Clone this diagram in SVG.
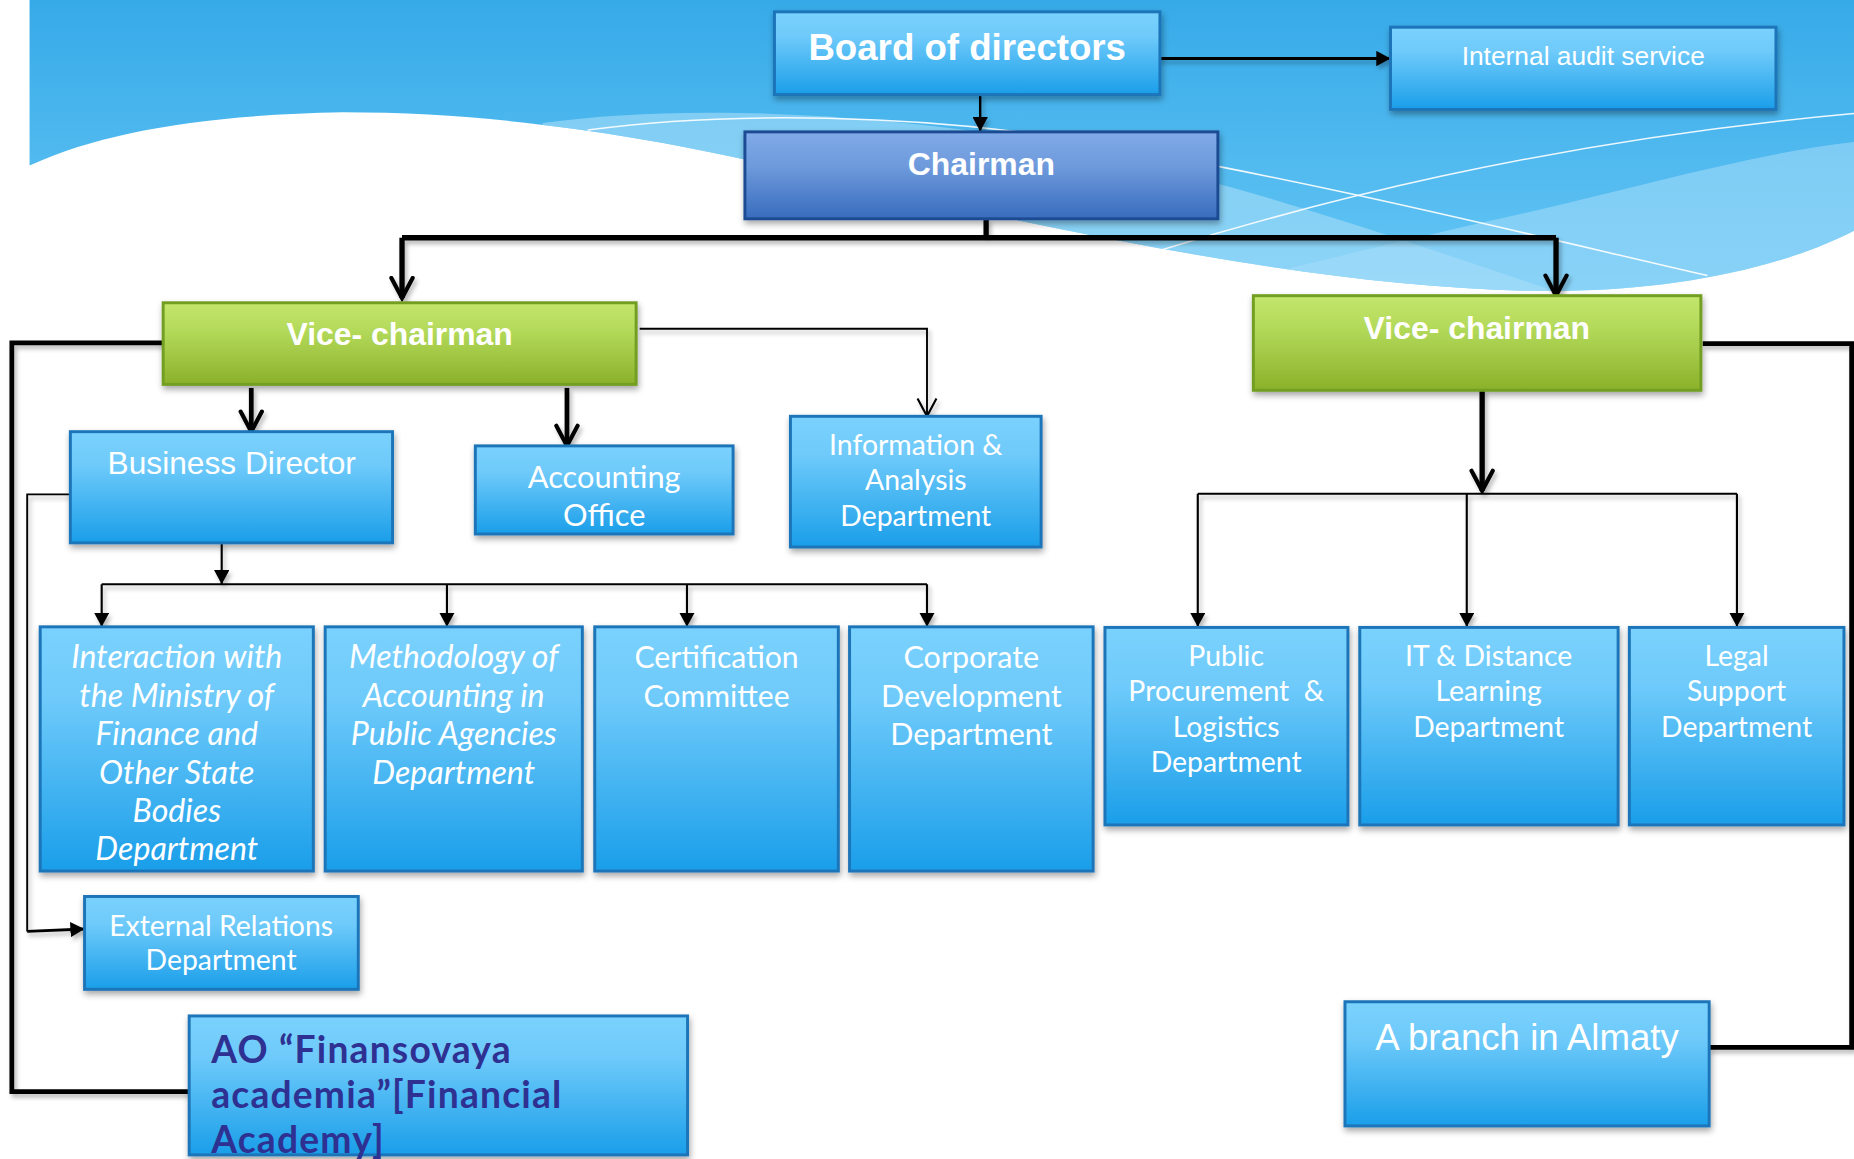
<svg xmlns="http://www.w3.org/2000/svg" width="1854" height="1159" viewBox="0 0 1854 1159">
<defs>
<linearGradient id="gBg" x1="0" y1="0" x2="0" y2="1"><stop offset="0" stop-color="#36AAE8"/><stop offset="1" stop-color="#66C6F5"/></linearGradient>
<linearGradient id="gBlue" x1="0" y1="0" x2="0" y2="1"><stop offset="0" stop-color="#7AD1FD"/><stop offset="0.3" stop-color="#6ECAFA"/><stop offset="1" stop-color="#1A9EE9"/></linearGradient>
<linearGradient id="gChair" x1="0" y1="0" x2="0" y2="1"><stop offset="0" stop-color="#80AAE8"/><stop offset="0.4" stop-color="#6E9ADC"/><stop offset="1" stop-color="#386CBD"/></linearGradient>
<linearGradient id="gGreen" x1="0" y1="0" x2="0" y2="1"><stop offset="0" stop-color="#C3E66B"/><stop offset="0.35" stop-color="#B3D95A"/><stop offset="1" stop-color="#8BB12A"/></linearGradient>
<clipPath id="bgClip"><path d="M25,0 H1568 V195 C1510,225 1420,246 1314,246 C1100,246 830,180 631,135 C540,115 420,95 290,95 C180,97 90,110 25,140 Z"/></clipPath>
<filter id="sh" x="-5%" y="-5%" width="115%" height="130%"><feDropShadow dx="1" dy="3" stdDeviation="2.5" flood-color="#000" flood-opacity="0.35"/></filter>
<filter id="lsh" filterUnits="userSpaceOnUse" x="0" y="0" width="1600" height="1000"><feDropShadow dx="2" dy="3" stdDeviation="2" flood-color="#000" flood-opacity="0.28"/></filter>
<marker id="aF" viewBox="0 0 12 13" refX="12" refY="6.5" markerWidth="12" markerHeight="13" markerUnits="userSpaceOnUse" orient="auto"><path d="M0,0 L12,6.5 L0,13 z" fill="#000"/></marker>
<marker id="aV" viewBox="0 0 22 22" refX="19" refY="11" markerWidth="22" markerHeight="22" markerUnits="userSpaceOnUse" orient="auto"><path d="M2,2 L19,11 L2,20" fill="none" stroke="#000" stroke-width="3.5" stroke-linecap="round"/></marker>
<marker id="aVt" viewBox="0 0 18 18" refX="16" refY="9" markerWidth="18" markerHeight="18" markerUnits="userSpaceOnUse" orient="auto"><path d="M1,1 L16,9 L1,17" fill="none" stroke="#000" stroke-width="1.8"/></marker>
<style>
.box{fill:url(#gBlue);stroke:#1D74B8;stroke-width:2.5;filter:url(#sh)}
.chair{fill:url(#gChair);stroke:#1C4C93;stroke-width:2.5;filter:url(#sh)}
.vice{fill:url(#gGreen);stroke:#729E22;stroke-width:2.5;filter:url(#sh)}
.tA{font-family:"Liberation Sans",Arial,sans-serif;fill:#fff;text-anchor:middle}
.tB{font-family:"Liberation Sans",Arial,sans-serif;font-weight:bold;fill:#fff;text-anchor:middle}
.tC{font-family:Lato,"Open Sans",sans-serif;fill:#fff;text-anchor:middle}
.it{font-style:italic}
.ln{fill:none;stroke:#000;stroke-linejoin:miter}
.thick{stroke-width:4.5}
.thin{stroke-width:1.8}
.wl{fill:none;stroke:#fff;stroke-width:1.3;opacity:0.9}
</style>
</defs>
<rect width="1854" height="1159" fill="#fff"/>
<g transform="scale(1.1824,1.1827)">
<g id="background">
<path d="M25,0 H1568 V195 C1510,225 1420,246 1314,246 C1100,246 830,180 631,135 C540,115 420,95 290,95 C180,97 90,110 25,140 Z" fill="url(#gBg)"/>
<g clip-path="url(#bgClip)">
<path d="M459,104 C560,90 700,92 860,116 C1000,140 1150,190 1314,246 L1314,300 L459,300 Z" fill="#A6DDF9" opacity="0.6"/>
<path d="M950,260 C1100,225 1200,200 1268,185 C1380,160 1480,130 1568,120 V300 H950 Z" fill="#A6DDF9" opacity="0.55"/>
</g>
<path class="wl" d="M497,110 C620,93 780,98 900,117 C1100,150 1300,200 1444,233"/>
<path class="wl" d="M980,212 C1100,175 1300,120 1568,96"/>
</g>
<g id="connectors" filter="url(#lsh)">
<path class="ln" stroke-width="2" d="M829,80 V111" marker-end="url(#aF)"/>
<path class="ln" stroke-width="2.5" d="M975,49.5 H1176" marker-end="url(#aF)"/>
<path class="ln thick" d="M834,185 V201"/>
<path class="ln thick" d="M340,201 H1316"/>
<path class="ln thick" d="M340,201 V252" marker-end="url(#aV)"/>
<path class="ln thick" d="M1316,201 V250" marker-end="url(#aV)"/>
<path class="ln" stroke-width="4" d="M138,290 H10 V923 H160"/>
<path class="ln" stroke-width="4" d="M1440,290.5 H1566 V885.5 H1445"/>
<path class="ln" stroke-width="4" d="M212.5,328 V365" marker-end="url(#aV)"/>
<path class="ln" stroke-width="4" d="M479.5,328 V377" marker-end="url(#aV)"/>
<path class="ln" stroke-width="1.6" d="M541,278 H784 V352" marker-end="url(#aVt)"/>
<path class="ln thin" d="M187.5,459 V494" marker-end="url(#aF)"/>
<path class="ln thin" d="M86,494 H784"/>
<path class="ln thin" d="M86,494 V530" marker-end="url(#aF)"/>
<path class="ln thin" d="M378,494 V530" marker-end="url(#aF)"/>
<path class="ln thin" d="M581,494 V530" marker-end="url(#aF)"/>
<path class="ln thin" d="M784,494 V530" marker-end="url(#aF)"/>
<path class="ln" stroke-width="1.6" d="M59,418 H23 V787.5"/>
<path class="ln" stroke-width="2.5" d="M23,787.5 L71.5,785.5" marker-end="url(#aF)"/>
<path class="ln" stroke-width="4.5" d="M1253.5,330 V415" marker-end="url(#aV)"/>
<path class="ln thin" d="M1013,417.5 H1469"/>
<path class="ln thin" d="M1013,417.5 V530" marker-end="url(#aF)"/>
<path class="ln thin" d="M1240.5,417.5 V530" marker-end="url(#aF)"/>
<path class="ln thin" d="M1469,417.5 V530" marker-end="url(#aF)"/>
</g>
<g id="n-board"><rect class="box" x="655" y="10" width="326" height="70"/><text class="tB" x="818" y="51" font-size="31">Board of directors</text></g>
<g id="n-audit"><rect class="box" x="1176" y="23" width="326" height="69.5"/><text class="tA" x="1339" y="55" font-size="22.3">Internal audit service</text></g>
<g id="n-chairman"><rect class="chair" x="630" y="111.5" width="400" height="73.5"/><text class="tB" x="830" y="148" font-size="27">Chairman</text></g>
<g id="n-vice1"><rect class="vice" x="138" y="256" width="400" height="69"/><text class="tB" x="338" y="292" font-size="27">Vice- chairman</text></g>
<g id="n-vice2"><rect class="vice" x="1060" y="250" width="378.5" height="80"/><text class="tB" x="1249" y="287" font-size="27">Vice- chairman</text></g>
<g id="n-business"><rect class="box" x="59.5" y="365" width="272.5" height="94"/><text class="tA" x="196" y="401" font-size="26.8">Business Director</text></g>
<g id="n-accounting"><rect class="box" x="402" y="377" width="218" height="74.5"/><text class="tC" x="511" y="413" font-size="26">Accounting</text><text class="tC" x="511" y="445" font-size="26">Office</text></g>
<g id="n-info"><rect class="box" x="668.5" y="352" width="212" height="110.5"/><text class="tC" font-size="24"><tspan x="774.5" y="385">Information &amp;</tspan><tspan x="774.5" y="414.5">Analysis</tspan><tspan x="774.5" y="445">Department</tspan></text></g>
<g id="n-interaction"><rect class="box" x="34" y="530" width="231" height="206.5"/><text class="tC it" font-size="27.2"><tspan x="149.5" y="565">Interaction with</tspan><tspan x="149.5" y="597.5">the Ministry of</tspan><tspan x="149.5" y="630">Finance and</tspan><tspan x="149.5" y="662.5">Other State</tspan><tspan x="149.5" y="695">Bodies</tspan><tspan x="149.5" y="727.5">Department</tspan></text></g>
<g id="n-methodology"><rect class="box" x="275" y="530" width="217.5" height="206.5"/><text class="tC it" font-size="27.2"><tspan x="383.7" y="565">Methodology of</tspan><tspan x="383.7" y="597.5">Accounting in</tspan><tspan x="383.7" y="630">Public Agencies</tspan><tspan x="383.7" y="662.5">Department</tspan></text></g>
<g id="n-certification"><rect class="box" x="503" y="530" width="206" height="206.5"/><text class="tC" font-size="25.5"><tspan x="606" y="565">Certification</tspan><tspan x="606" y="597.5">Committee</tspan></text></g>
<g id="n-corporate"><rect class="box" x="718.5" y="530" width="206" height="206.5"/><text class="tC" font-size="25.8"><tspan x="821.5" y="565">Corporate</tspan><tspan x="821.5" y="597.5">Development</tspan><tspan x="821.5" y="630">Department</tspan></text></g>
<g id="n-public"><rect class="box" x="934.5" y="530.5" width="205.5" height="167"/><text class="tC" font-size="24" xml:space="preserve"><tspan x="1037" y="563">Public</tspan><tspan x="1037" y="593">Procurement  &amp;</tspan><tspan x="1037" y="623">Logistics</tspan><tspan x="1037" y="653">Department</tspan></text></g>
<g id="n-it"><rect class="box" x="1150" y="530.5" width="218.5" height="167"/><text class="tC" font-size="24"><tspan x="1259" y="563">IT &amp; Distance</tspan><tspan x="1259" y="593">Learning</tspan><tspan x="1259" y="623">Department</tspan></text></g>
<g id="n-legal"><rect class="box" x="1378" y="530.5" width="181.5" height="167"/><text class="tC" font-size="24"><tspan x="1468.7" y="563">Legal</tspan><tspan x="1468.7" y="593">Support</tspan><tspan x="1468.7" y="623">Department</tspan></text></g>
<g id="n-external"><rect class="box" x="71.5" y="758" width="231.5" height="78.5"/><text class="tC" font-size="24"><tspan x="187" y="791">External Relations</tspan><tspan x="187" y="820.5">Department</tspan></text></g>
<g id="n-academy"><rect class="box" x="160" y="859" width="421.5" height="117.5"/><text font-family="Lato,'Open Sans',sans-serif" font-weight="bold" font-size="31.5" letter-spacing="1" fill="#2E3192"><tspan x="178.6" y="899">AO “Finansovaya</tspan><tspan x="178.6" y="937">academia”[Financial</tspan><tspan x="178.6" y="975">Academy]</tspan></text></g>
<g id="n-almaty"><rect class="box" x="1137.5" y="847" width="308" height="105"/><text class="tA" x="1291.5" y="888" font-size="31">A branch in Almaty</text></g>
</g>
</svg>
